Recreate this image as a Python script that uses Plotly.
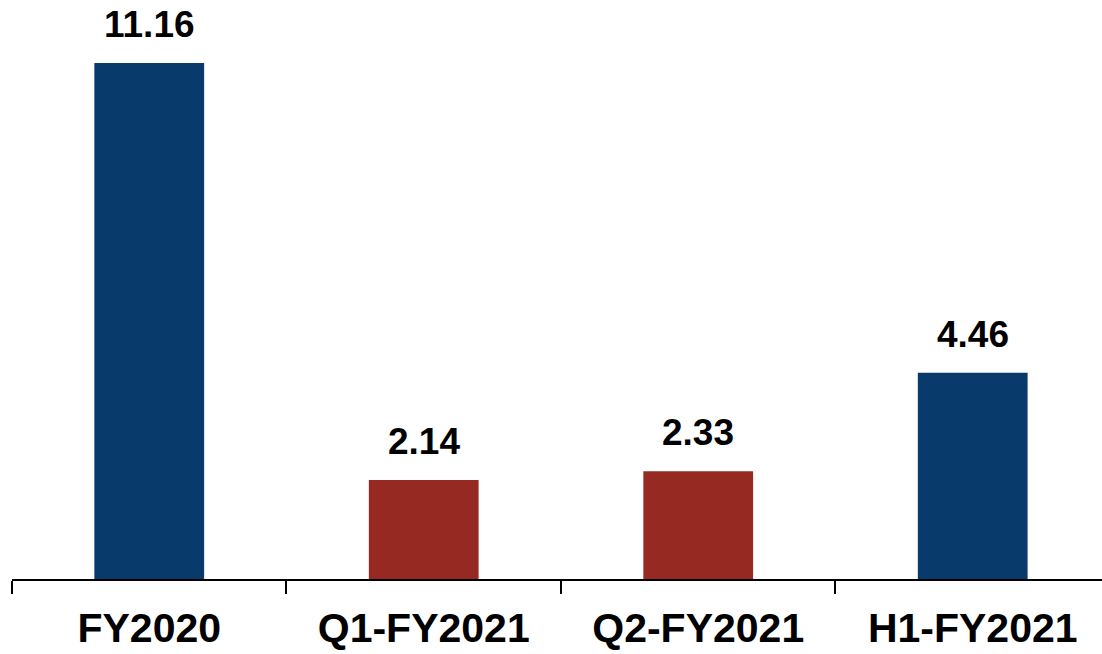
import plotly.graph_objects as go

categories = ["FY2020", "Q1-FY2021", "Q2-FY2021", "H1-FY2021"]
values = [11.16, 2.14, 2.33, 4.46]
colors = ["#083A6B", "#962A22", "#962A22", "#083A6B"]
labels = ["11.16", "2.14", "2.33", "4.46"]

fig = go.Figure()
fig.add_trace(go.Bar(
    x=categories, y=values, width=0.4,
    marker=dict(color=colors, line=dict(width=0)),
    hoverinfo="skip",
))

for c, v, t in zip(categories, values, labels):
    fig.add_annotation(
        x=c, y=v, text=t, showarrow=False, yanchor="bottom", yshift=16,
        font=dict(family="Liberation Sans", size=37, color="#000000", weight="bold"),
    )

fig.update_layout(
    width=1102, height=654,
    margin=dict(l=12, r=0, t=0, b=75),
    paper_bgcolor="white", plot_bgcolor="white",
    showlegend=False,
    xaxis=dict(
        type="category", range=[-0.5, 3.471],
        showline=True, linecolor="#000000", linewidth=2,
        ticks="outside", tickson="boundaries", ticklen=13, tickwidth=2, tickcolor="#000000",
        showgrid=False, zeroline=False,
        tickfont=dict(family="Liberation Sans", size=41, color="#000000", weight="bold"),
        ticklabelstandoff=12,
    ),
    yaxis=dict(
        range=[0, 12.52], visible=False, showgrid=False, zeroline=False,
    ),
)

fig.write_html("out.html")
